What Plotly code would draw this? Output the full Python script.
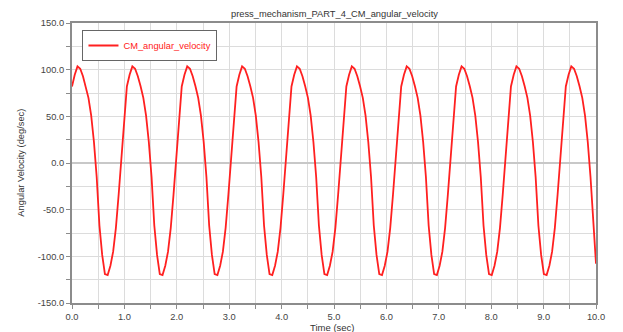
import plotly.graph_objects as go

# Sample spacing of the recorded signal (s) and start time
t_start = 0.0
t_step = 10.0 / 191

# CM angular velocity (deg/sec), 20 samples per cycle
angular_velocity = [
    82, 94.5, 103.5, 101, 93, 82.3, 69.8, 50.7, 22.5, -15, -67, -98.5, -119, -120, -110, -95, -69.5, -34, 6.5, 49.7,
    82, 94.5, 103.5, 101, 93, 82.3, 69.8, 50.7, 22.5, -15, -67, -98.5, -119, -120, -110, -95, -69.5, -34, 6.5, 49.7,
    82, 94.5, 103.5, 101, 93, 82.3, 69.8, 50.7, 22.5, -15, -67, -98.5, -119, -120, -110, -95, -69.5, -34, 6.5, 49.7,
    82, 94.5, 103.5, 101, 93, 82.3, 69.8, 50.7, 22.5, -15, -67, -98.5, -119, -120, -110, -95, -69.5, -34, 6.5, 49.7,
    82, 94.5, 103.5, 101, 93, 82.3, 69.8, 50.7, 22.5, -15, -67, -98.5, -119, -120, -110, -95, -69.5, -34, 6.5, 49.7,
    82, 94.5, 103.5, 101, 93, 82.3, 69.8, 50.7, 22.5, -15, -67, -98.5, -119, -120, -110, -95, -69.5, -34, 6.5, 49.7,
    82, 94.5, 103.5, 101, 93, 82.3, 69.8, 50.7, 22.5, -15, -67, -98.5, -119, -120, -110, -95, -69.5, -34, 6.5, 49.7,
    82, 94.5, 103.5, 101, 93, 82.3, 69.8, 50.7, 22.5, -15, -67, -98.5, -119, -120, -110, -95, -69.5, -34, 6.5, 49.7,
    82, 94.5, 103.5, 101, 93, 82.3, 69.8, 50.7, 22.5, -15, -67, -98.5, -119, -120, -110, -95, -69.5, -34, 6.5, 49.7,
    82, 94.5, 103.5, 101, 93, 82.3, 69.8, 50.7, 22.5, -15, -67, -108,
]

x_ticks = [0, 1, 2, 3, 4, 5, 6, 7, 8, 9, 10]
x_tick_labels = ["0.0", "1.0", "2.0", "3.0", "4.0", "5.0", "6.0", "7.0", "8.0", "9.0", "10.0"]
y_ticks = [-150, -100, -50, 0, 50, 100, 150]
y_tick_labels = ["-150.0", "-100.0", "-50.0", "0.0", "50.0", "100.0", "150.0"]

FONT = "Liberation Sans, Arial, sans-serif"
GRID = "#dcdcdc"
AXIS = "#8c8c8c"
TEXT = "#444444"
RED = "#ff2020"

fig = go.Figure()
fig.add_trace(go.Scatter(
    x0=t_start, dx=t_step, y=angular_velocity,
    mode="lines", name="CM_angular_velocity",
    line=dict(color=RED, width=1.8),
))

fig.update_layout(
    width=623, height=332,
    margin=dict(l=72, r=27, t=23, b=29),
    paper_bgcolor="white", plot_bgcolor="white",
    font=dict(family=FONT, size=9.3, color=TEXT),
    showlegend=True,
    legend=dict(
        x=0.02, y=0.975, xanchor="left", yanchor="top",
        bordercolor="#666666", borderwidth=1, bgcolor="white",
        font=dict(family=FONT, size=9.3, color=RED),
        itemwidth=30, tracegroupgap=0,
    ),
    annotations=[
        dict(text="press_mechanism_PART_4_CM_angular_velocity", xref="paper", yref="paper",
             x=0.5, y=1.0, yshift=9, xanchor="center", yanchor="middle", showarrow=False,
             font=dict(family=FONT, size=9.3, color="#333333")),
        dict(text="Time (sec)", xref="paper", yref="paper",
             x=0.497, y=-0.088, xanchor="center", yanchor="middle", showarrow=False,
             font=dict(family=FONT, size=9.5, color="#333333")),
        dict(text="Angular Velocity (deg/sec)", xref="paper", yref="paper",
             x=-0.098, y=0.5, xanchor="center", yanchor="middle", showarrow=False,
             textangle=-90, font=dict(family=FONT, size=9.3, color="#333333")),
    ],
)

fig.update_xaxes(
    range=[0, 10], tickvals=x_ticks, ticktext=x_tick_labels,
    showgrid=True, gridcolor=GRID, gridwidth=1,
    showline=True, linecolor=AXIS, linewidth=2, mirror=True,
    ticks="outside", ticklen=4, tickcolor=AXIS, tickwidth=1,
    minor=dict(dtick=0.5, tick0=0, showgrid=True, gridcolor=GRID, ticks="outside", ticklen=4, tickcolor=AXIS),
    zeroline=False, automargin=False,
    tickfont=dict(family=FONT, size=9.3, color=TEXT),
)
fig.update_yaxes(
    range=[-150, 150], tickvals=y_ticks, ticktext=y_tick_labels,
    showgrid=True, gridcolor=GRID, gridwidth=1,
    showline=True, linecolor=AXIS, linewidth=2, mirror=True,
    ticks="outside", ticklen=4, tickcolor=AXIS, tickwidth=1,
    minor=dict(dtick=25, tick0=0, showgrid=True, gridcolor=GRID, ticks="outside", ticklen=4, tickcolor=AXIS),
    zeroline=True, zerolinecolor="#c8c8c8", zerolinewidth=1.5, automargin=False,
    tickfont=dict(family=FONT, size=9.3, color=TEXT),
)

fig.write_html("out.html")
